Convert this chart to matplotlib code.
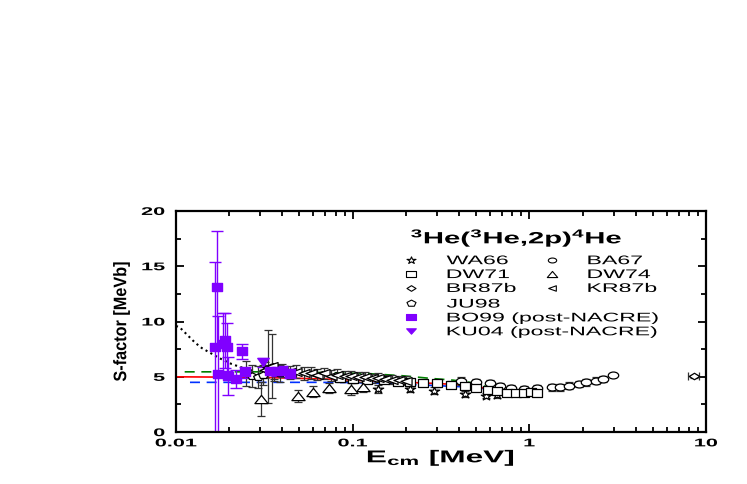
import numpy as np
import matplotlib.pyplot as plt
from matplotlib.lines import Line2D
from matplotlib.markers import MarkerStyle
from matplotlib.path import Path
from matplotlib.patheffects import AbstractPathEffect
from matplotlib.transforms import Affine2D
from matplotlib.ticker import NullFormatter

plt.rcParams['font.family'] = ['Liberation Sans', 'DejaVu Sans']
plt.rcParams['mathtext.fontset'] = 'custom'
plt.rcParams['mathtext.rm'] = 'Liberation Sans:bold'
plt.rcParams['mathtext.bf'] = 'Liberation Sans:bold'
plt.rcParams['mathtext.default'] = 'rm'

# data sets (E in MeV, S in MeV b, error)
wa66_e = [0.14, 0.21, 0.29, 0.43, 0.57, 0.66]
wa66_s = [3.9, 3.9, 3.75, 3.45, 3.3, 3.35]
wa66_err = [0.35, 0.3, 0.3, 0.3, 0.25, 0.25]

ba67_e = [0.41, 0.5, 0.6, 0.68, 0.79, 0.93, 1.1, 1.34, 1.49, 1.68, 1.92, 2.1, 2.4, 2.62, 2.99]
ba67_s = [4.65, 4.5, 4.4, 4.15, 3.95, 3.9, 3.95, 4.05, 4.05, 4.2, 4.35, 4.5, 4.65, 4.8, 5.19]
ba67_err = [0.35, 0.3, 0.3, 0.3, 0.3, 0.3, 0.3, 0.3, 0.3, 0.3, 0.3, 0.3, 0.3, 0.25, 0.0]

dw71_e = [0.085, 0.1, 0.12, 0.15, 0.18, 0.21, 0.25, 0.3, 0.36, 0.43, 0.5, 0.58, 0.66, 0.75, 0.84, 0.93, 1.02, 1.1]
dw71_s = [4.9, 4.8, 4.75, 4.7, 4.55, 4.5, 4.45, 4.4, 4.3, 4.15, 4.0, 3.85, 3.7, 3.55, 3.5, 3.55, 3.6, 3.55]
dw71_err = [0.4, 0.35, 0.35, 0.3, 0.3, 0.3, 0.3, 0.3, 0.3, 0.3, 0.25, 0.25, 0.25, 0.25, 0.25, 0.25, 0.25, 0.25]

dw74_e = [0.0302, 0.0492, 0.06, 0.073, 0.098, 0.114]
dw74_s = [3.0, 3.25, 3.65, 4.0, 3.9, 4.05]
dw74_err = [1.5, 0.55, 0.5, 0.45, 0.5, 0.45]

br87b_e = [8.53]
br87b_s = [5.03]
br87b_err = [0.1]

kr87b_e = [0.032, 0.0332, 0.0348, 0.036, 0.04, 0.044, 0.048, 0.053, 0.058, 0.063, 0.069, 0.075,
           0.082, 0.09, 0.098, 0.107, 0.117, 0.128, 0.14, 0.153, 0.167, 0.182, 0.2]
kr87b_s = [5.6, 5.9, 6.0, 5.5, 5.55, 5.4, 5.45, 5.3, 5.35, 5.2, 5.3, 5.1,
           5.2, 5.05, 5.1, 4.95, 5.0, 4.85, 4.9, 4.8, 4.75, 4.7, 4.65]
kr87b_err = [0.7, 3.3, 2.9, 0.7, 0.6, 0.6, 0.6, 0.55, 0.55, 0.5, 0.5, 0.5,
             0.5, 0.45, 0.45, 0.45, 0.45, 0.4, 0.4, 0.4, 0.4, 0.4, 0.4]

ju98_e = [0.025, 0.027, 0.029, 0.031, 0.036, 0.039]
ju98_s = [5.3, 5.1, 5.0, 5.2, 5.4, 5.3]
ju98_err = [1.1, 1.0, 1.0, 0.9, 0.8, 0.8]

bo99_e = [0.0166, 0.0171, 0.0172, 0.0185, 0.0189, 0.0194, 0.0198, 0.0218, 0.0235, 0.0245,
          0.034, 0.0372, 0.040, 0.0442]
bo99_s = [7.7, 13.1, 5.25, 8.0, 8.3, 7.7, 5.1, 4.8, 7.3, 5.4, 5.55, 5.5, 5.55, 5.3]
bo99_err = [7.7, 5.1, 5.25, 2.8, 2.5, 2.2, 1.7, 0.8, 0.7, 0.5, 0.4, 0.4, 0.4, 0.4]

ku04_e = [0.0312]
ku04_s = [6.3]
ku04_err = [0.4]

# fit curves
red_e = [0.01, 0.03, 0.07, 0.12, 0.2, 0.3, 0.43, 0.55, 0.7]
red_s = [5.0, 4.95, 4.8, 4.65, 4.5, 4.4, 4.25, 4.0, 3.65]
blue_e = [0.012, 0.03, 0.06, 0.1, 0.19, 0.3, 0.46, 0.58, 0.7]
blue_s = [4.5, 4.5, 4.5, 4.48, 4.35, 4.2, 4.07, 3.9, 3.65]
green_e = [0.0112, 0.03, 0.06, 0.12, 0.19, 0.28, 0.37, 0.46, 0.56, 0.66]
green_s = [5.45, 5.45, 5.4, 5.3, 5.1, 4.85, 4.7, 4.5, 4.15, 3.85]
dot_e = [0.01, 0.0105, 0.0128, 0.014, 0.0177, 0.0207, 0.024, 0.028]
dot_s = [9.6, 9.47, 8.1, 7.6, 6.67, 6.15, 5.8, 5.5]

purple = '#8000ff'


class Wide(AbstractPathEffect):
    """draw text stretched along its baseline (the original figure is squashed)"""
    def __init__(self, sx, frac=0.0):
        super().__init__()
        self.sx = sx
        self.frac = frac

    def draw_path(self, renderer, gc, tpath, affine, rgbFace=None):
        ext = tpath.get_extents()
        px = ext.x0 + self.frac * ext.width
        aff = Affine2D().translate(-px, 0).scale(self.sx, 1).translate(px, 0) + affine
        renderer.draw_path(gc, tpath, aff, rgbFace)


def wide(m, sx=1.6):
    st = MarkerStyle(m)
    p = st.get_path().transformed(st.get_transform())
    v = p.vertices.copy()
    v[:, 0] *= sx
    return Path(v, p.codes)


fig = plt.figure(figsize=(7.47, 4.85), dpi=100)
ax = fig.add_axes([0.2356, 0.107, 0.7095, 0.456])

ax.plot(dot_e, dot_s, ':', color='black', lw=1.5)
ax.plot(green_e, green_s, '--', color='#008000', lw=1.2, dashes=(6, 4))
ax.plot(blue_e, blue_s, '--', color='#0030ff', lw=1.2, dashes=(6, 4))
ax.plot(red_e, red_s, '-', color='#ff0000', lw=1.2)

ebkw = dict(ecolor='#333333', elinewidth=0.9, capsize=3, capthick=0.9, ls='none',
            mfc='white', mec='black', mew=0.9)
ax.errorbar(wa66_e, wa66_s, yerr=wa66_err, marker=wide('*', 1.3), ms=7.5, **ebkw)
ax.errorbar(ba67_e, ba67_s, yerr=ba67_err, marker=wide('o', 1.5), ms=7.5, **ebkw)
ax.errorbar(dw71_e, dw71_s, yerr=dw71_err, marker=wide('s', 1.45), ms=7.5, **ebkw)
ax.errorbar(dw74_e, dw74_s, yerr=dw74_err, marker=wide('^', 1.6), ms=9.5, **ebkw)
ax.errorbar(br87b_e, br87b_s, yerr=br87b_err, xerr=[[0.6], [0.6]], marker=wide('D', 1.6), ms=7.5,
            **ebkw)
ax.errorbar(kr87b_e, kr87b_s, yerr=kr87b_err, marker=wide('<', 1.4), ms=8, **ebkw)
ax.errorbar(ju98_e, ju98_s, yerr=ju98_err, marker=wide('p', 1.4), ms=7, **ebkw)

ax.errorbar(bo99_e, bo99_s, yerr=bo99_err, marker=wide('s', 1.4), ms=7.5, color=purple,
            ecolor=purple, elinewidth=1.0, capsize=4, capthick=1.0, ls='none')
ax.errorbar(ku04_e, ku04_s, yerr=ku04_err, marker=wide('v', 1.4), ms=8, color=purple,
            ecolor=purple, elinewidth=1.0, capsize=4, capthick=1.0, ls='none')

ax.set_xscale('log')
ax.set_xlim(0.01, 10)
ax.set_ylim(0, 20)
ax.set_yticks([0, 5, 10, 15, 20])
ax.set_yticks([2.5, 7.5, 12.5, 17.5], minor=True)
ax.set_xticks([0.01, 0.1, 1, 10])
ax.set_xticklabels(['0.01', '0.1', '1', '10'])
ax.xaxis.set_minor_formatter(NullFormatter())
ax.tick_params(which='both', direction='in', top=True, right=True, width=1.3)
ax.tick_params(which='major', length=6)
ax.tick_params(which='minor', length=3.5)
ax.tick_params(axis='y', pad=8, labelsize=8)
ax.tick_params(axis='x', pad=4.5, labelsize=8)
for t in ax.xaxis.get_major_ticks():
    t.label1.set_fontweight('bold')
    t.label1.set_path_effects([Wide(1.95, 0.5)])
for t in ax.yaxis.get_major_ticks():
    t.label1.set_fontweight('bold')
    t.label1.set_path_effects([Wide(1.95, 1.0)])
for sp in ax.spines.values():
    sp.set_linewidth(1.6)

yl = ax.set_ylabel('S-factor [MeVb]', fontsize=13, fontweight='bold', labelpad=16)
yl.set_path_effects([Wide(0.9, 0.5)])
xl = ax.set_xlabel(r'E$_{\mathregular{cm}}$ [MeV]', fontsize=12.3, fontweight='bold', labelpad=0)
xl.set_path_effects([Wide(1.85, 0.5)])

ttl = ax.text(0.643, 0.88, r'$^{\mathbf{3}}$He($^{\mathbf{3}}$He,2p)$^{\mathbf{4}}$He',
              transform=ax.transAxes, ha='center', va='center', fontsize=11.7, fontweight='bold')
ttl.set_path_effects([Wide(1.8, 0.5)])


def mk(marker, ms, color='black', mfc='white'):
    return Line2D([], [], marker=marker, ls='none', ms=ms, mec=color, mfc=mfc, mew=0.8)


lkw = dict(frameon=False, fontsize=9, handlelength=1.5, handletextpad=2.1,
           labelspacing=0.15, borderpad=0, borderaxespad=0)
handles1 = [mk(wide('*', 1.3), 6.5), mk(wide('s', 1.8), 6.5), mk(wide('D', 1.6), 6.5),
            mk(wide('o', 1.7), 6), mk(wide('^', 1.7), 7.5), mk(wide('<', 1.4), 5.5)]
labels1 = ['WA66', 'DW71', 'BR87b', 'BA67', 'DW74', 'KR87b']
leg1 = ax.legend(handles1, labels1, ncol=2, loc='upper left', bbox_to_anchor=(0.4257, 0.80),
                 columnspacing=4.6, **lkw)
ax.add_artist(leg1)
handles2 = [mk(wide('p', 1.4), 6.5), mk(wide('s', 1.8), 7, purple, purple),
            mk(wide('v', 1.8), 7, purple, purple)]
labels2 = ['JU98', 'BO99 (post-NACRE)', 'KU04 (post-NACRE)']
leg2 = ax.legend(handles2, labels2, loc='upper left', bbox_to_anchor=(0.4257, 0.604), **lkw)
for lg in (leg1, leg2):
    for t in lg.get_texts():
        t.set_path_effects([Wide(1.85, 0.0)])

fig.savefig('out.png', dpi=100)
